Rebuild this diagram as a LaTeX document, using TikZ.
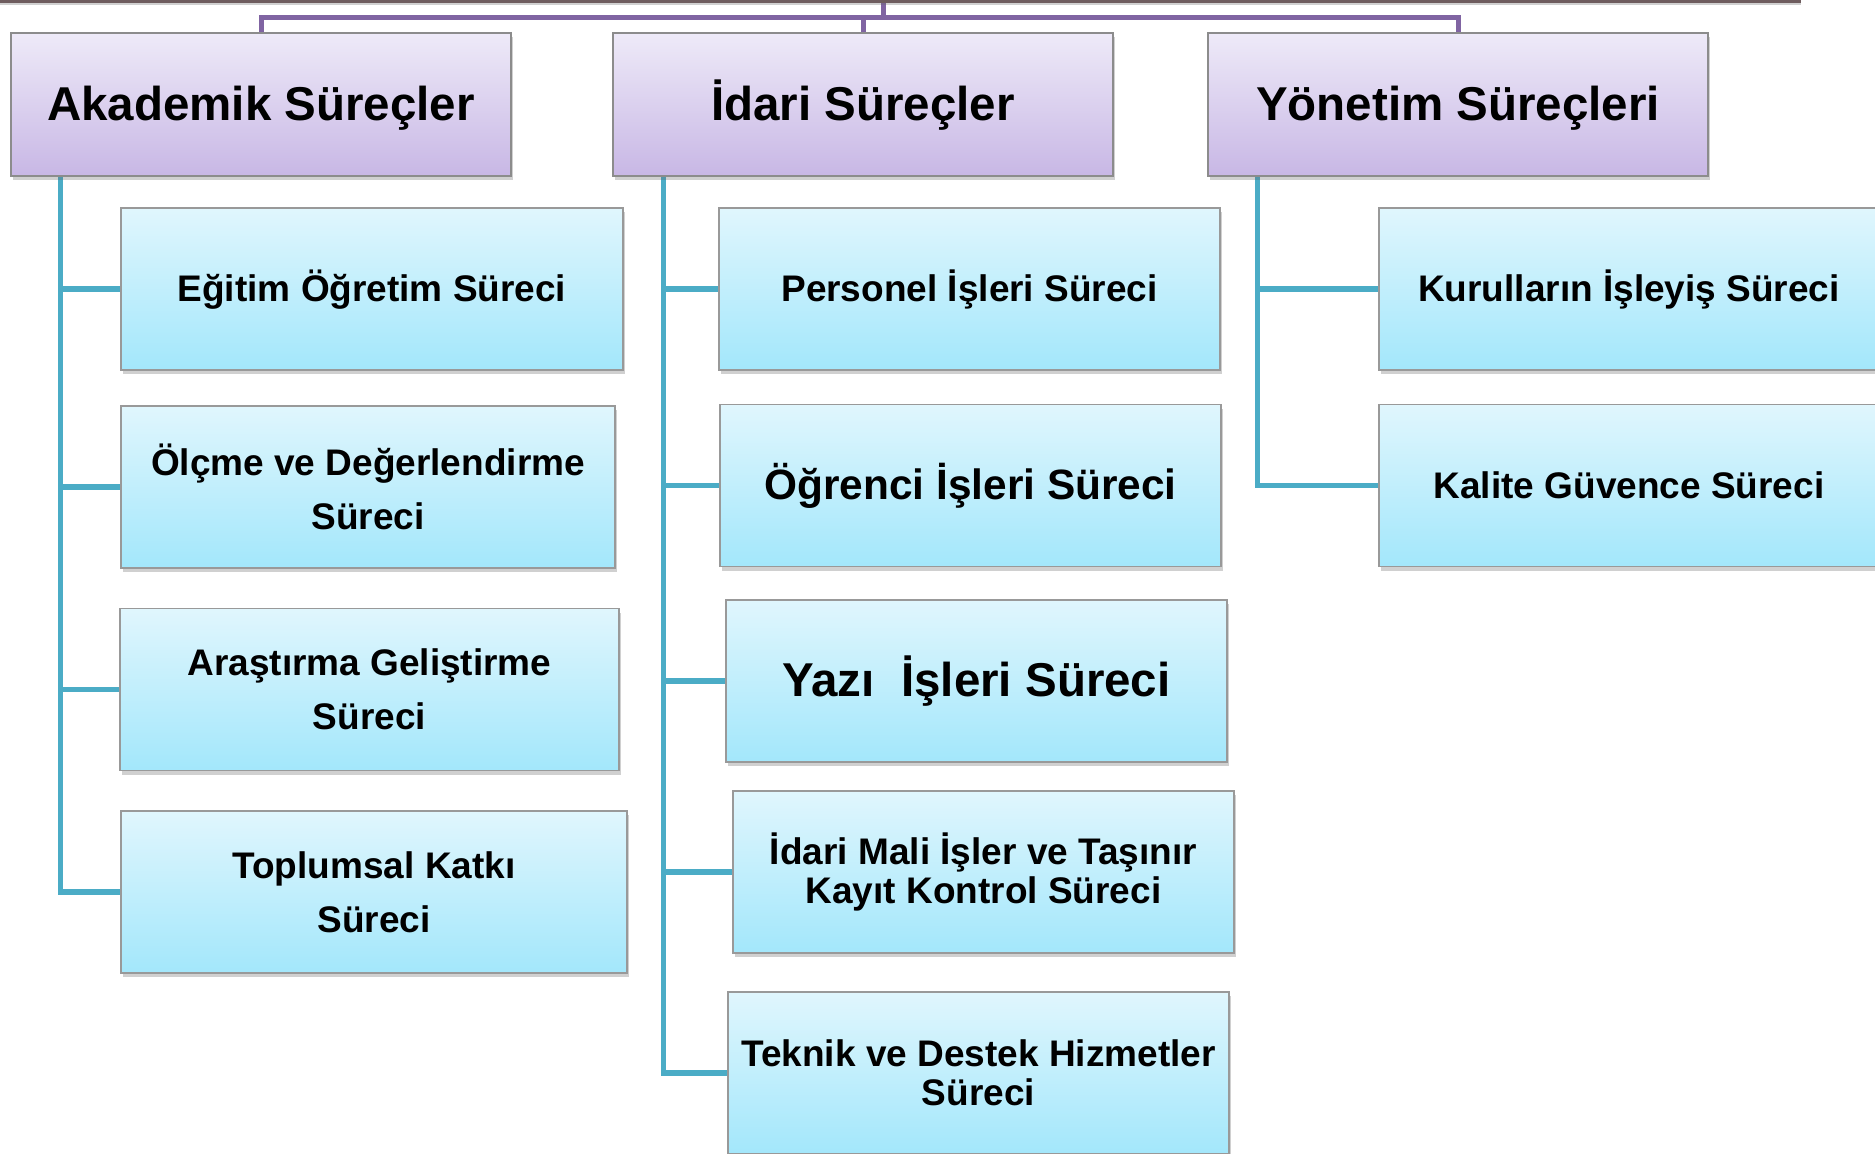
\documentclass[tikz,border=0pt]{standalone}
\usepackage{fontspec}
\setmainfont{Liberation Sans}
\usetikzlibrary{shadows,backgrounds}
\definecolor{tealc}{HTML}{4BACC6}
\definecolor{purc}{HTML}{8064A2}
\definecolor{childtop}{HTML}{E0F6FD}
\definecolor{childbot}{HTML}{A3E7FB}
\definecolor{titletop}{HTML}{EEEAF8}
\definecolor{titlebot}{HTML}{C8B7E5}
\definecolor{rootc}{HTML}{6E5C5E}
\tikzset{
  basebox/.style={rectangle, inner sep=0pt, align=center, font=\bfseries,
    drop shadow={shadow xshift=2pt, shadow yshift=-4pt, opacity=0.3, fill=black!60}},
  titlebox/.style={basebox, draw=black!45, line width=1.5pt, top color=titletop, bottom color=titlebot,
    minimum width=500pt, minimum height=143pt, font=\fontsize{47.5}{56}\selectfont\bfseries,
    text height=35pt, text depth=4pt},
  childbox/.style={basebox, draw=black!40, line width=1.5pt, top color=childtop, bottom color=childbot,
    minimum height=162pt, font=\fontsize{37}{54}\selectfont\bfseries},
  oneline/.style={text height=28pt, text depth=3pt},
  tconn/.style={draw=tealc, line width=5.5pt},
  pconn/.style={draw=purc, line width=5pt},
}
\begin{document}
\begin{tikzpicture}[x=1pt, y=-1pt]
\clip (0,0) rectangle (1875,1154);
% root (bottom edge only visible)
\node[rectangle, fill=rootc, draw=rootc, inner sep=0pt, minimum width=1810pt, minimum height=60pt,
  anchor=south west, drop shadow={shadow xshift=1pt, shadow yshift=-3pt, opacity=0.3, fill=black!60}] (root) at (-10,2.5) {};
% titles
\node[titlebox] (A) at (261,104.5) {Akademik Süreçler};
\node[titlebox] (I) at (863,104.5) {İdari Süreçler};
\node[titlebox] (Y) at (1458,104.5) {Yönetim Süreçleri};
% Akademik children
\node[childbox, oneline, minimum width=502pt] (a1) at (372,289) {Eğitim Öğretim Süreci};
\node[childbox, minimum width=494pt] (a2) at (368,487) {Ölçme ve Değerlendirme\\Süreci};
\node[childbox, minimum width=499pt] (a3) at (369.5,689.5) {Araştırma Geliştirme\\Süreci};
\node[childbox, minimum width=506pt] (a4) at (374,892) {Toplumsal Katkı\\Süreci};
% Idari children
\node[childbox, oneline, minimum width=501pt] (i1) at (969.5,289) {Personel İşleri Süreci};
\node[childbox, minimum width=501pt, font=\fontsize{42.4}{50}\selectfont\bfseries, text height=31pt, text depth=4pt] (i2) at (970.5,485.5) {Öğrenci İşleri Süreci};
\node[childbox, minimum width=501pt, font=\fontsize{47.5}{56}\selectfont\bfseries, text height=35pt, text depth=4pt] (i3) at (976.5,681) {Yazı \ İşleri Süreci};
\node[childbox, minimum width=501pt, font=\fontsize{37}{38.5}\selectfont\bfseries] (i4) at (983.5,872) {İdari Mali İşler ve Taşınır\\Kayıt Kontrol Süreci};
\node[childbox, minimum width=501pt, font=\fontsize{37}{38.5}\selectfont\bfseries] (i5) at (978.5,1073) {Teknik ve Destek Hizmetler\\Süreci};
% Yonetim children
\node[childbox, oneline, minimum width=500pt] (y1) at (1629,289) {Kurulların İşleyiş Süreci};
\node[childbox, oneline, minimum width=500pt] (y2) at (1629,485.5) {Kalite Güvence Süreci};
\begin{pgfonlayer}{background}
\fill[white] (0,0) rectangle (1875,1154);
% purple connectors
\coordinate (bus) at (883,17.5);
\draw[pconn] (root.south -| bus) -- (bus);
\draw[pconn] (A.north) |- (bus);
\draw[pconn] (Y.north) |- (bus);
\draw[pconn] (I.north) -- (I.north |- bus);
% teal connectors
\coordinate (At) at ([xshift=50pt]A.south west);
\coordinate (It) at ([xshift=51pt]I.south west);
\coordinate (Yt) at ([xshift=50pt]Y.south west);
\draw[tconn] (At) |- (a4.west);
\foreach \c in {a1,a2,a3} \draw[tconn] (At |- \c.west) -- (\c.west);
\draw[tconn] (It) |- (i5.west);
\foreach \c in {i1,i2,i3,i4} \draw[tconn] (It |- \c.west) -- (\c.west);
\draw[tconn] (Yt) |- (y2.west);
\draw[tconn] (Yt |- y1.west) -- (y1.west);
\end{pgfonlayer}
\end{tikzpicture}
\end{document}
